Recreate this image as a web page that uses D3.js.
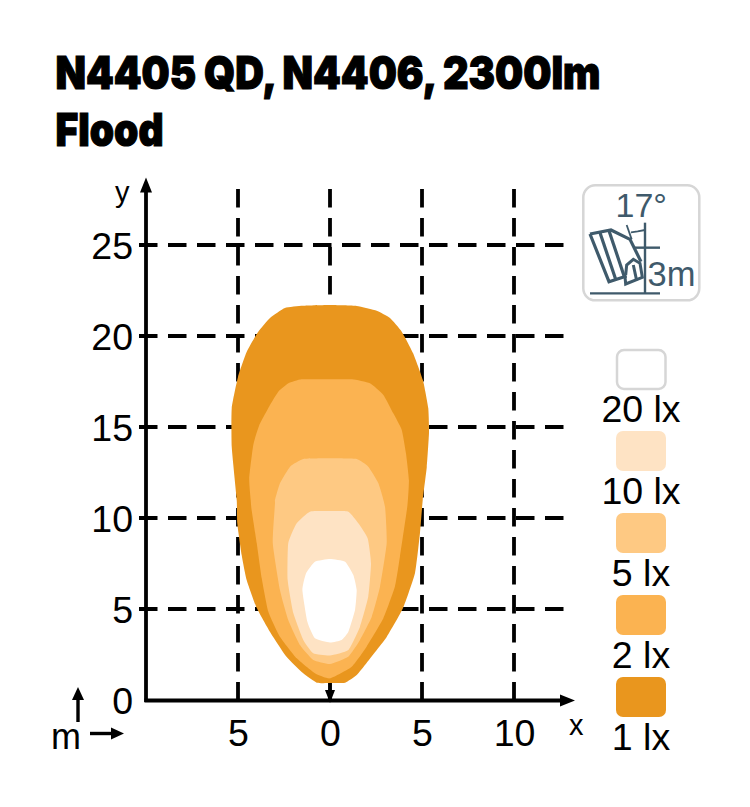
<!DOCTYPE html>
<html><head><meta charset="utf-8">
<script src="https://cdn.jsdelivr.net/npm/d3@7/dist/d3.min.js"></script>
<style>html,body{margin:0;background:#fff}svg{display:block}text{font-family:"Liberation Sans",Arial,sans-serif}</style>
</head><body><svg id="c" width="750" height="807"></svg>
<script>
const titleLines = ["N4405 QD, N4406, 2300lm", "Flood"];
const titleWidths = [545, 108];
const xTicks = [-5, 0, 5, 10];
const yTicks = [0, 5, 10, 15, 20, 25];
const gridX = [-5, 0, 5, 10];
const gridY = [5, 10, 15, 20, 25];
const levels = ["1 lx", "2 lx", "5 lx", "10 lx", "20 lx"];
const levelColors = ["#E9961E", "#FBB351", "#FEC983", "#FEE3C4", "#FFFFFF"];
const contour1 = [[0,21.7],[1.45,21.65],[2.54,21.39],[3.26,20.99],[3.9,20.24],[4.51,19.07],[5.05,17.58],[5.34,16.04],[5.38,14.67],[5.26,12.8],[5.04,10.99],[4.89,9.18],[4.62,6.98],[3.97,5.05],[3.08,3.46],[1.99,2.03],[1.45,1.37],[0.82,0.95],[0,0.93],[-0.72,0.95],[-1.47,1.48],[-2.35,2.36],[-3.26,3.74],[-3.98,5.05],[-4.53,6.59],[-4.8,7.97],[-5.04,9.73],[-5.07,10.99],[-5.34,13.9],[-5.34,16.04],[-5,17.75],[-4.53,19.12],[-3.91,20.22],[-3.26,20.99],[-2.45,21.54],[-1.47,21.66]];
const contour2 = [[0,17.62],[1.2,17.62],[2.17,17.4],[2.9,16.76],[3.44,15.75],[3.9,14.84],[4.13,13.55],[4.29,12.09],[4.2,10.62],[3.8,7.87],[3.53,6.23],[2.9,4.49],[1.99,2.93],[1.18,1.83],[0,1.19],[-0.82,1.47],[-1.81,2.29],[-2.72,3.48],[-3.35,4.85],[-3.71,6.69],[-3.98,8.61],[-4.26,10.44],[-4.31,10.99],[-4.39,12.18],[-4.17,14.01],[-3.84,15.11],[-3.26,16.21],[-2.81,16.94],[-2.26,17.4],[-1.54,17.62]];
const contour5 = [[0,13.28],[1.45,13.24],[2.08,12.82],[2.63,11.91],[2.99,10.62],[3.08,8.61],[2.72,6.23],[2.27,4.58],[1.63,3.3],[0.99,2.38],[0,1.98],[-0.91,2.2],[-1.63,3.02],[-2.27,4.4],[-2.72,6.04],[-3.11,8.61],[-2.99,10.8],[-2.99,10.99],[-2.72,11.91],[-2.17,12.82],[-1.45,13.24]];
const contour10 = [[0,10.38],[1,10.35],[1.54,9.71],[2.05,8.88],[2.23,7.51],[2.08,5.68],[1.63,4.03],[1,2.75],[0,2.45],[-0.91,2.57],[-1.45,3.3],[-1.99,4.76],[-2.3,6.59],[-2.27,8.61],[-1.81,9.71],[-1.09,10.35]];
const contour20 = [[0,7.75],[0.82,7.6],[1.27,6.87],[1.45,6.04],[1.36,4.95],[1,3.75],[0.63,3.3],[0,3.16],[-0.82,3.39],[-1.23,4.3],[-1.5,6.04],[-1.3,6.96],[-0.82,7.6]];
const contours = [contour1, contour2, contour5, contour10, contour20];

const svg = d3.select("#c");
const x = d3.scaleLinear().domain([0, 10]).range([330, 514]);
const y = d3.scaleLinear().domain([0, 25]).range([700, 245]);
const black = "#000";

svg.selectAll("text.title").data(titleLines).join("text").attr("class","title")
  .attr("x", 55.5).attr("y", (d,i) => 89 + i*57)
  .style("font-family","Inter").attr("font-size", 46).attr("font-weight", 900).attr("fill", black)
  .attr("stroke", black).attr("stroke-width", 1.2)
  .attr("textLength", (d,i) => titleWidths[i]).attr("lengthAdjust","spacingAndGlyphs").text(d => d);

svg.append("g").selectAll("line").data(gridX).join("line")
  .attr("x1", d => x(d)).attr("x2", d => x(d)).attr("y1", 189).attr("y2", 700)
  .attr("stroke", black).attr("stroke-width", 3.8).attr("stroke-dasharray", "18.5 10.5");
svg.append("g").selectAll("line").data(gridY).join("line")
  .attr("x1", 139).attr("x2", 565).attr("y1", d => y(d)).attr("y2", d => y(d))
  .attr("stroke", black).attr("stroke-width", 3.8).attr("stroke-dasharray", "18.5 10.5");

const area = d3.line().x(d => x(d[0])).y(d => y(d[1])).curve(d3.curveCardinalClosed.tension(0.55));
svg.append("g").selectAll("path").data(contours).join("path")
  .attr("d", area).attr("fill", (d,i) => levelColors[i]);

const xAxis = d3.axisBottom(x).tickValues(xTicks).tickSize(0).tickPadding(0).tickFormat(d => Math.abs(d));
const gx = svg.append("g").attr("transform","translate(0,700)").call(xAxis);
gx.select(".domain").remove();
gx.attr("font-family", null);
gx.selectAll("text").attr("font-size", 37.5).attr("y", 45.5).attr("dy", 0).attr("fill", black);
const yAxis = d3.axisLeft(y).tickValues(yTicks).tickSize(0).tickPadding(0);
const gy = svg.append("g").attr("transform","translate(133,0)").call(yAxis);
gy.select(".domain").remove();
gy.attr("font-family", null);
gy.selectAll("text").attr("font-size", 37.5).attr("dy", 0).attr("y", 13).attr("fill", black);

function arrow(x1,y1,x2,y2,w,hl,hw){
  const a = Math.atan2(y2-y1,x2-x1), c=Math.cos(a), s=Math.sin(a);
  svg.append("line").attr("x1",x1).attr("y1",y1).attr("x2",x2-c*hl*.7).attr("y2",y2-s*hl*.7).attr("stroke",black).attr("stroke-width",w);
  svg.append("path").attr("fill",black).attr("d",`M${x2},${y2}L${x2-c*hl-s*hw},${y2-s*hl+c*hw}L${x2-c*hl+s*hw},${y2-s*hl-c*hw}Z`);
}
arrow(146,702,146,177.5,3.8,15,6);
arrow(144.5,700.5,575,700.5,4.2,15,6);
arrow(330,683,330,703,3,13,5);
arrow(78,722,78,687,3.4,13,6);
arrow(90,733.5,124,733.5,3.4,13,6);
svg.append("text").attr("x",115).attr("y",202).attr("font-size",29).text("y");
svg.append("text").attr("x",569).attr("y",735).attr("font-size",29).text("x");
svg.append("text").attr("x",51).attr("y",749).attr("font-size",36).text("m");

const legendOrder = levels.slice().reverse();
const ly = d3.scaleBand().domain(legendOrder).range([349, 759]);
const lg = svg.append("g").selectAll("g").data(legendOrder).join("g");
lg.append("rect").attr("x", d => d==="20 lx" ? 617 : 616).attr("y", d => ly(d) + (d==="20 lx" ? 1 : 0))
  .attr("width", d => d==="20 lx" ? 48.5 : 50).attr("height", d => d==="20 lx" ? 39 : 40).attr("rx", 7)
  .attr("fill", d => levelColors[levels.indexOf(d)])
  .attr("stroke", d => d==="20 lx" ? "#d6d6d6" : "none").attr("stroke-width", 2.5);
lg.append("text").attr("x", 641).attr("y", d => ly(d)+73).attr("text-anchor","middle")
  .attr("font-size", 37.5).attr("fill", black).text(d => d);

const ic = "#3f5a6b";
const icon = svg.append("g");
icon.append("rect").attr("x",583.3).attr("y",185.3).attr("width",116).attr("height",115).attr("rx",12)
  .attr("fill","#fff").attr("stroke","#d6d6d6").attr("stroke-width",2.5);
const pz = (zx,zy) => [585+zx/3, 220+zy/3];
const ln = d3.line();
const stroke = (pts,w=2.4) => icon.append("path").attr("d", ln(pts.map(p=>pz(p[0],p[1])))).attr("fill","none").attr("stroke",ic).attr("stroke-width",w);
stroke([[180,8],[180,222]]);
stroke([[15,220],[225,220]]);
stroke([[145,83],[225,83]]);
stroke([[15,42],[78,30],[135,58],[168,125]],3.2);
stroke([[15,42],[72,185],[125,168]],3.2);
stroke([[45,38],[92,178]],3.2);
stroke([[72,32],[118,170]],3.2);
stroke([[125,15],[140,58]],1.8);
stroke([[138,37],[158,34],[180,30]],1.8);
stroke([[122,165],[125,135],[145,118],[165,130],[172,172],[122,192],[120,170]],3);
stroke([[145,135],[155,182]],3);
icon.append("text").attr("x",615.5).attr("y",217).attr("font-size",34).attr("fill",ic).text("17°");
icon.append("text").attr("x",647.5).attr("y",286).attr("font-size",34.5).attr("fill",ic).text("3m");
</script></body></html>
